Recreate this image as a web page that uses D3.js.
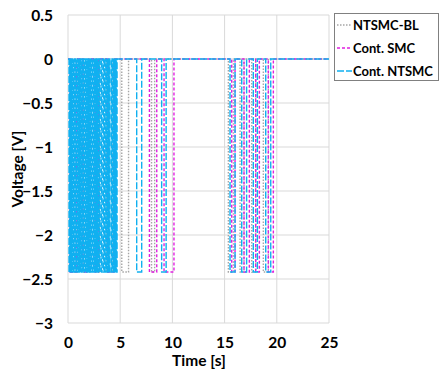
<!DOCTYPE html>
<html><head><meta charset="utf-8">
<script src="https://cdn.jsdelivr.net/npm/d3@7"></script>
<style>body{margin:0;background:#fff}svg{display:block}text{font-family:Lato,"Open Sans",sans-serif;font-weight:bold;fill:#000}</style>
</head><body>
<script>
// Data: time intervals [start, end] (s) where the signal sits at the low level
const lowLevel = -2.42;
const tEnd = 25;
const seriesNames = ["NTSMC-BL", "Cont. SMC", "Cont. NTSMC"];
const ntsmcBlPulses = [[0.3,0.9],[1.5,2.1],[2.7,3.0],[3.7,4.3],
  [5.15,5.8],[8.0,8.3],[15.36,15.84],[16.48,16.86],[17.6,17.98],[18.71,19.19]];
const contSmcPulses = [[0.2,0.8],[1.4,2.0],[2.6,2.9],[3.8,4.4],
  [7.8,8.5],[9.2,10.15],[15.68,16.0],[16.86,17.37],[17.98,18.33],[19.19,19.67]];
const contNtsmcPulses = [[0.10,0.16],[0.22,0.28],[0.34,0.40],[0.46,0.52],[0.58,0.64],[0.70,0.76],
  [0.82,0.88],[0.94,1.00],[1.06,1.12],[1.18,1.24],[1.30,1.36],[1.42,1.48],[1.54,1.60],[1.66,1.72],
  [1.78,1.84],[1.90,1.96],[2.02,2.08],[2.14,2.20],[2.26,2.32],[2.38,2.44],[2.50,2.56],[2.62,2.68],
  [2.74,2.80],[2.86,2.92],[3.00,3.06],[3.20,3.26],[3.40,3.46],[3.55,3.62],[3.70,3.76],[3.82,3.88],
  [3.94,4.00],[4.15,4.22],[4.30,4.36],[4.42,4.48],[4.54,4.60],[4.64,4.70],
  [6.58,7.06],[8.97,9.4],[15.52,16.0],[16.64,17.11],[17.75,18.14],[18.94,19.42]];
const xTicks = [0,5,10,15,20,25];
const yTicks = [0.5,0,-0.5,-1,-1.5,-2,-2.5,-3];

const W = 440, H = 376;
const FS = "15.5px";
const svg = d3.select("body").append("svg").attr("width", W).attr("height", H);
const x = d3.scaleLinear().domain([0,25]).range([68,329]);
const y = d3.scaleLinear().domain([-3,0.5]).range([323,15]);

// grid
svg.append("g").selectAll("line").data(yTicks).join("line")
  .attr("x1", x(0)).attr("x2", x(25)).attr("y1", d=>y(d)).attr("y2", d=>y(d))
  .attr("stroke", "#d9d9d9").attr("stroke-width", 1);
svg.append("g").selectAll("line").data(xTicks).join("line")
  .attr("y1", y(0.5)).attr("y2", y(-3)).attr("x1", d=>x(d)).attr("x2", d=>x(d))
  .attr("stroke", "#d9d9d9").attr("stroke-width", 1);

// axes labels
const yAxis = d3.axisLeft(y).tickValues(yTicks).tickSize(0).tickPadding(15).tickFormat(d3.format(""));
const gy = svg.append("g").attr("transform", `translate(${x(0)},0)`).call(yAxis);
gy.select(".domain").remove();
gy.selectAll("text").style("font-size",FS).attr("dy","0.35em").attr("x",-15);
const xAxis = d3.axisBottom(x).tickValues(xTicks).tickSize(0).tickPadding(15);
const gx = svg.append("g").attr("transform", `translate(0,${y(-3)})`).call(xAxis);
gx.select(".domain").remove();
gx.selectAll("text").style("font-size",FS).attr("dy",null).attr("y",25);

svg.append("text").attr("x", 199).attr("y", 366).attr("text-anchor","middle").style("font-size",FS).text("Time [s]");
svg.append("text").attr("transform","translate(23,169) rotate(-90)").attr("text-anchor","middle").style("font-size",FS).text("Voltage [V]");

function stepPoints(pulses){
  const pts = [[0,0]];
  pulses.forEach(([a,b]) => { pts.push([a,0],[a,lowLevel],[b,lowLevel],[b,0]); });
  pts.push([tEnd,0]);
  return pts;
}
const line = d3.line().x(d=>x(d[0])).y(d=>y(d[1]));
const styles = [
  {color:"#a6a6a6", dash:"1.5,1.5"},
  {color:"#e020e0", dash:"3,2"},
  {color:"#10b0f0", dash:"7,2"}
];
const allPulses = [ntsmcBlPulses, contSmcPulses, contNtsmcPulses];
allPulses.forEach((p,i) => {
  svg.append("path").attr("d", line(stepPoints(p))).attr("fill","none")
    .attr("stroke", styles[i].color).attr("stroke-width",1.4).attr("stroke-dasharray", styles[i].dash);
});

// legend
const lg = svg.append("g");
lg.append("rect").attr("x",334.5).attr("y",13.5).attr("width",104).attr("height",67)
  .attr("fill","#fff").attr("stroke","#808080").attr("stroke-width",1);
const ly = [25,48,71];
const legTexts = seriesNames.map((n,i) => {
  lg.append("line").attr("x1",337).attr("x2",352).attr("y1",ly[i]).attr("y2",ly[i])
    .attr("stroke",styles[i].color).attr("stroke-width",1.3).attr("stroke-dasharray",styles[i].dash);
  return lg.append("text").attr("x",353).attr("y",ly[i]+5).style("font-size","14.5px").text(n);
});
const maxLen = d3.max(legTexts, t => t.node().getComputedTextLength());
const legFs = 14.5 * Math.min(1, 80 / maxLen);
legTexts.forEach(t => t.style("font-size", legFs + "px"));
</script>
</body></html>
